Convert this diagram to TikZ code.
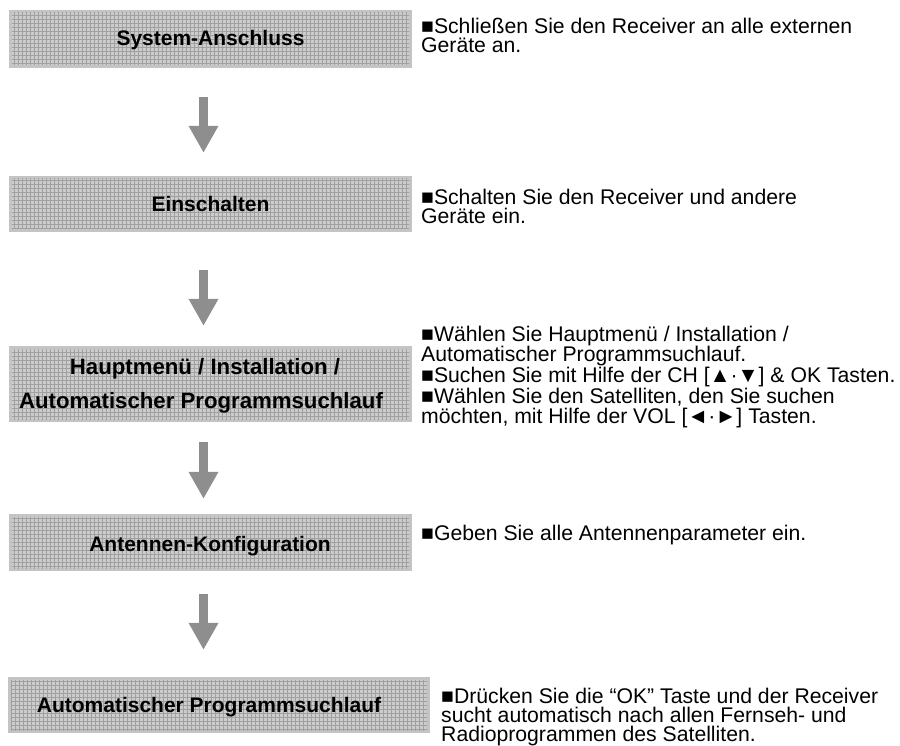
\documentclass[tikz,border=0pt]{standalone}
\usepackage{fontspec}
\setmainfont{Liberation Sans}
\usetikzlibrary{arrows.meta,calc}
\definecolor{boxouter}{HTML}{C4C4C4}
\definecolor{boxinner}{HTML}{CCCCCC}
\definecolor{boxgrid}{HTML}{A0A0A0}
\definecolor{arrowgray}{HTML}{8E8E8E}
\begin{document}
\begin{tikzpicture}[x=1pt,y=-1pt,
  stepbox/.style={draw=none, fill=boxouter, inner sep=0pt, minimum width=403pt,
    path picture={
      \fill[boxinner] ([shift={(3pt,3pt)}]path picture bounding box.south west) rectangle ([shift={(-3pt,-3pt)}]path picture bounding box.north east);
      \begin{scope}
        \clip ([shift={(3pt,3pt)}]path picture bounding box.south west) rectangle ([shift={(-3pt,-3pt)}]path picture bounding box.north east);
        \draw[boxgrid, line width=0.6pt, step=4pt] (path picture bounding box.south west) grid (path picture bounding box.north east);
      \end{scope}
    }},
  lbl/.style={font=\bfseries\fontsize{21}{21}\selectfont, inner sep=0pt, anchor=base},
  desc/.style={font=\fontsize{21.2}{19.5}\selectfont, inner sep=0pt, anchor=base west, align=left},
  flow/.style={draw=arrowgray, line width=9pt, -{Triangle[width=28pt,length=27pt]}}
]
\useasboundingbox (0,0) rectangle (900,746);

% boxes
\node[stepbox, minimum height=58pt] (b1) at (210.5,39) {};
\node[stepbox, minimum height=56pt] (b2) at (210.5,204) {};
\node[stepbox, minimum height=76pt] (b3) at (210.5,384) {};
\node[stepbox, minimum height=57pt] (b4) at (210.5,542.5) {};
\node[stepbox, minimum height=56pt, minimum width=422pt] (b5) at (219,705) {};

% labels
\node[lbl] (l1) at (210.5,46) {System-Anschluss};
\node[lbl] (l2) at (210.5,211.5) {Einschalten};
\node[lbl, font=\bfseries\fontsize{22.2}{22}\selectfont] (l3a) at (205,374.5) {Hauptmenü / Installation /};
\node[lbl, font=\bfseries\fontsize{22.2}{22}\selectfont] (l3b) at (201,408) {Automatischer Programmsuchlauf};
\node[lbl] (l4) at (210,551) {Antennen-Konfiguration};
\node[lbl] (l5) at (209,712.5) {Automatischer Programmsuchlauf};

% arrows
\coordinate (ax) at (203.5,0);
\draw[flow] ($(b1.south -| ax)+(0,29)$) -- ($(b2.north -| ax)+(0,-23)$);
\draw[flow] ($(b2.south -| ax)+(0,38)$) -- ($(b3.north -| ax)+(0,-20)$);
\draw[flow] ($(b3.south -| ax)+(0,20)$) -- ($(b4.north -| ax)+(0,-15)$);
\draw[flow] ($(b4.south -| ax)+(0,23)$) -- ($(b5.north -| ax)+(0,-27)$);

% descriptions (anchor = baseline of the last line)
\node[desc] (d1) at (421,53) {■Schließen Sie den Receiver an alle externen\\Geräte an.};
\node[desc] (d2) at (421,224) {■Schalten Sie den Receiver und andere\\Geräte ein.};
\node[desc] (d3) at (421,423) {■Wählen Sie Hauptmenü / Installation /\\Automatischer Programmsuchlauf.\\■Suchen Sie mit Hilfe der CH [▲·▼] \& OK Tasten.\\■Wählen Sie den Satelliten, den Sie suchen\\möchten, mit Hilfe der VOL [◄·►] Tasten.};
\node[desc] (d4) at (421,540) {■Geben Sie alle Antennenparameter ein.};
\node[desc, font=\fontsize{21.2}{19}\selectfont] (d5) at (441,741.5) {■Drücken Sie die “OK” Taste und der Receiver\\sucht automatisch nach allen Fernseh- und\\Radioprogrammen des Satelliten.};
\end{tikzpicture}
\end{document}
